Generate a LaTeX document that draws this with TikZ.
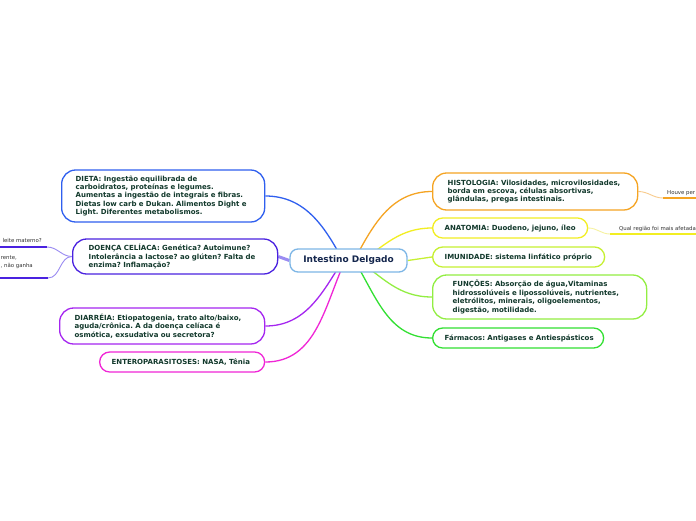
\documentclass[tikz,border=0pt]{standalone}
\usepackage{fontspec}
\setmainfont{DejaVu Sans}
\usetikzlibrary{backgrounds}
\frenchspacing
\definecolor{txt}{HTML}{12392C}
\definecolor{ctr}{HTML}{14264D}
\definecolor{cCentral}{HTML}{7DB6E6}
\definecolor{cDieta}{HTML}{2F5FEF}
\definecolor{cDoenca}{HTML}{4A22E0}
\definecolor{cDoencaL}{HTML}{9B8CF2}
\definecolor{cDiarreia}{HTML}{A526F0}
\definecolor{cEntero}{HTML}{F026D6}
\definecolor{cHisto}{HTML}{F5A423}
\definecolor{cHistoL}{HTML}{F8CB8C}
\definecolor{cAnat}{HTML}{F2EE22}
\definecolor{cAnatL}{HTML}{F6F2A0}
\definecolor{cImun}{HTML}{C6F032}
\definecolor{cFunc}{HTML}{92EE42}
\definecolor{cFarm}{HTML}{32E032}
\definecolor{small}{HTML}{333333}
\newcommand\oneline[1]{\mbox{#1}}
\tikzset{
  box/.style={draw, line width=1.3pt, fill=white, anchor=west, align=left,
    font=\bfseries\fontsize{7}{8.4}\selectfont, text=txt, inner ysep=0pt},
  bigbox/.style={box, rounded corners=14pt},
  smallbox/.style={box, rounded corners=10pt, minimum height=20pt},
  conn/.style={line width=1.3pt},
  subconn/.style={line width=0.9pt},
  underl/.style={line width=2pt},
  smalltext/.style={font=\fontsize{5.4}{6}\selectfont, text=small, inner sep=0pt}
}
\begin{document}
\begin{tikzpicture}[x=1pt,y=-1pt]
\useasboundingbox (0,0) rectangle (696,520);

% center
\node[draw=cCentral, line width=1.3pt, fill=white, rounded corners=8pt,
  minimum width=117pt, minimum height=23pt, inner sep=0pt,
  font=\bfseries\fontsize{9}{10}\selectfont, text=ctr] (C) at (348.5,260.5) {Intestino Delgado};

% left nodes
\node[bigbox, draw=cDieta, text width=175pt, inner xsep=14pt, minimum height=52pt] (dieta) at (61,196)
 {\oneline{DIETA: Ingestão equilibrada de}\\\oneline{carboidratos, proteínas e legumes.}\\\oneline{Aumentas a ingestão de integrais e fibras.}\\\oneline{Dietas low carb e Dukan. Alimentos Dight e}\\\oneline{Light. Diferentes metabolismos.}};
\node[bigbox, draw=cDoenca, text width=173pt, inner xsep=16pt, minimum height=35pt] (doenca) at (72,256.5)
 {\oneline{DOENÇA CELÍACA: Genética? Autoimune?}\\\oneline{Intolerância a lactose? ao glúten? Falta de}\\\oneline{enzima? Inflamação?}};
\node[bigbox, draw=cDiarreia, text width=175pt, inner xsep=15pt, minimum height=36pt] (diarreia) at (59,326)
 {\oneline{DIARRÉIA: Etiopatogenia, trato alto/baixo,}\\\oneline{aguda/crônica. A da doença celíaca é}\\\oneline{osmótica, exsudativa ou secretora?}};
\node[smallbox, draw=cEntero, text width=141pt, inner xsep=12pt] (entero) at (99,362)
 {\oneline{ENTEROPARASITOSES: NASA, Tênia}};

% right nodes
\node[bigbox, draw=cHisto, text width=175pt, inner xsep=15pt, minimum height=37pt] (histo) at (432,191.5)
 {\oneline{HISTOLOGIA: Vilosidades, microvilosidades,}\\\oneline{borda em escova, células absortivas,}\\\oneline{glândulas, pregas intestinais.}};
\node[smallbox, draw=cAnat, text width=131pt, inner xsep=12pt] (anat) at (432,228)
 {\oneline{ANATOMIA: Duodeno, jejuno, íleo}};
\node[smallbox, draw=cImun, text width=148pt, inner xsep=12pt] (imun) at (432,257)
 {\oneline{IMUNIDADE: sistema linfático próprio}};
\node[bigbox, draw=cFunc, text width=174pt, inner xsep=20pt, minimum height=44pt] (func) at (432,297)
 {\oneline{FUNÇÕES: Absorção de água,Vitaminas}\\\oneline{hidrossolúveis e lipossolúveis, nutrientes,}\\\oneline{eletrólitos, minerais, oligoelementos,}\\\oneline{digestão, motilidade.}};
\node[smallbox, draw=cFarm, text width=147pt, inner xsep=12pt] (farm) at (432,338)
 {\oneline{Fármacos: Antigases e Antiespásticos}};

% small labels
\node[smalltext, anchor=base west] (houve) at (667,194) {Houve per};
\node[smalltext, anchor=base west] (qual) at (619,230.5) {Qual região foi mais afetada};
\node[smalltext, anchor=base east] (leite) at (42,242.5) {leite materno?};
\node[smalltext, anchor=base east] (rente) at (17,259.5) {rente,};
\node[smalltext, anchor=base east] (naog) at (33,267) {, não ganha};

\coordinate (h1) at (663,198); \coordinate (h1e) at (697,198);
\coordinate (a1) at (610,234); \coordinate (a1e) at (697,234);
\coordinate (l1) at (47,247); \coordinate (l1e) at (-1,247);
\coordinate (l2) at (48,278); \coordinate (l2e) at (-1,278);

\begin{pgfonlayer}{background}
  \fill[white] (0,0) rectangle (696,520);
  % main connectors
  \draw[conn, draw=cDieta] ([xshift=-4pt,yshift=-3pt]C.center) to[out=118,in=0] (dieta.east);
  \draw[line width=3pt, draw=cDoencaL] (C.west) -- (doenca.east);
  \draw[conn, draw=cDiarreia] ([xshift=-4pt,yshift=3pt]C.center) to[out=238,in=0] (diarreia.east);
  \draw[conn, draw=cEntero] ([xshift=-2pt,yshift=3pt]C.center) to[out=245,in=0] (entero.east);
  \draw[conn, draw=cHisto] ([xshift=4pt,yshift=-3pt]C.center) to[out=62,in=180] (histo.west);
  \draw[conn, draw=cAnat] ([xshift=10pt,yshift=-3pt]C.center) to[out=35,in=180] (anat.west);
  \draw[conn, draw=cImun] (C.east) -- (imun.west);
  \draw[conn, draw=cFunc] ([xshift=6pt,yshift=3pt]C.center) to[out=-35,in=180] (func.west);
  \draw[conn, draw=cFarm] ([xshift=4pt,yshift=3pt]C.center) to[out=-58,in=180] (farm.west);
  % sub-branches
  \draw[subconn, draw=cHistoL] (histo.east) to[out=0,in=180] (h1);
  \draw[underl, draw=cHisto] (h1) -- (h1e);
  \draw[subconn, draw=cAnatL] (anat.east) to[out=0,in=180] (a1);
  \draw[underl, draw=cAnat] (a1) -- (a1e);
  \draw[subconn, draw=cDoencaL] (doenca.west) to[out=180,in=0] (l1);
  \draw[underl, draw=cDoenca] (l1) -- (l1e);
  \draw[subconn, draw=cDoencaL] (doenca.west) to[out=180,in=0] (l2);
  \draw[underl, draw=cDoenca] (l2) -- (l2e);
\end{pgfonlayer}
\end{tikzpicture}
\end{document}
